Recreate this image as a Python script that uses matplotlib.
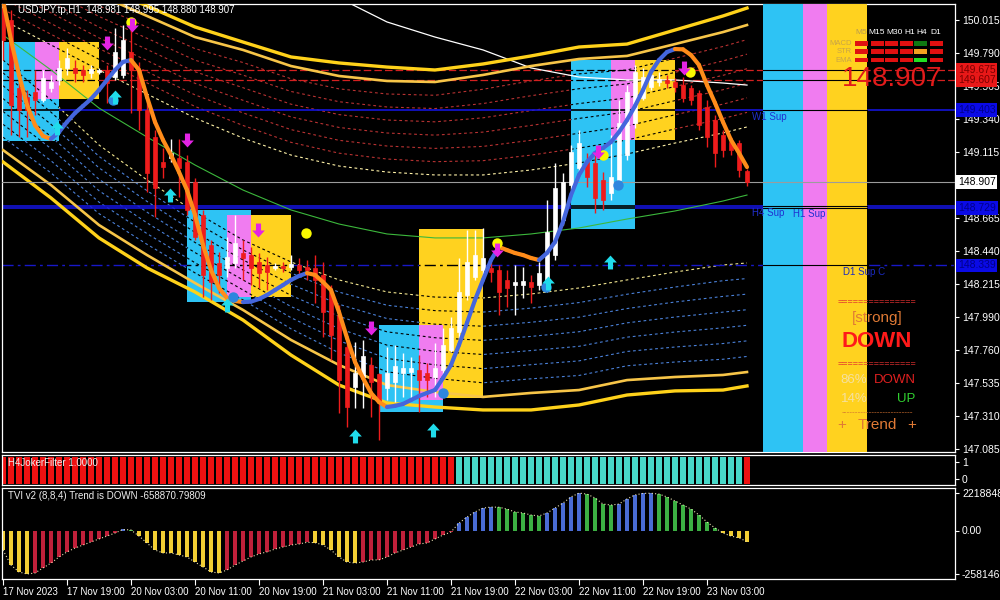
import numpy as np
import matplotlib
matplotlib.use("Agg")
import matplotlib.pyplot as plt
from matplotlib.patches import Rectangle
from matplotlib.collections import LineCollection
from matplotlib.path import Path
import matplotlib.transforms as mtrans

plt.rcParams['font.family'] = ['Liberation Sans', 'DejaVu Sans']

# ---------------------------------------------------------------- data
symbol_title = "USDJPY.tp,H1  148.981 148.995 148.880 148.907"
time_labels = ["17 Nov 2023", "17 Nov 19:00", "20 Nov 03:00", "20 Nov 11:00", "20 Nov 19:00",
               "21 Nov 03:00", "21 Nov 11:00", "21 Nov 19:00", "22 Nov 03:00", "22 Nov 11:00",
               "22 Nov 19:00", "23 Nov 03:00"]
time_label_bars = [0, 8, 16, 24, 32, 40, 48, 56, 64, 72, 80, 88]

price_ticks = [150.015, 149.790, 149.565, 149.340, 149.115, 148.665, 148.440,
               148.215, 147.990, 147.760, 147.535, 147.310, 147.085]
price_tick_labels = ["150.015", "149.790", "149.565", "149.340", "149.115", "148.665", "148.440",
                     "148.215", "147.990", "147.760", "147.535", "147.310", "147.085"]

open_ = [150.097, 150.015, 149.551, 149.489, 149.524, 149.469, 149.551, 149.606, 149.688, 149.688,
         149.674, 149.653, 149.660, 149.674, 149.626, 149.640, 149.797, 149.674, 149.401, 149.216,
         149.046, 149.073, 149.073, 149.046, 148.909, 148.684, 148.479, 148.356, 148.322, 148.356,
         148.424, 148.410, 148.363, 148.342, 148.322, 148.335, 148.328, 148.342, 148.328, 148.322,
         148.274, 148.158, 148.001, 147.782, 147.509, 147.577, 147.659, 147.598, 147.502, 147.543,
         147.604, 147.611, 147.625, 147.604, 147.577, 147.625, 147.761, 147.884, 148.137, 148.260,
         148.308, 148.322, 148.308, 148.240, 148.205, 148.205, 148.226, 148.205, 148.240, 148.410,
         148.649, 148.888, 149.005, 149.046, 149.039, 148.923, 148.834, 148.923, 149.093, 149.312,
         149.483, 149.558, 149.592, 149.606, 149.592, 149.571, 149.551, 149.517, 149.421, 149.332,
         149.230, 149.182, 149.175, 148.981]
high = [150.118, 150.084, 149.606, 149.537, 149.674, 149.674, 149.640, 149.742, 149.824, 149.742,
        149.708, 149.708, 149.688, 149.708, 149.961, 149.981, 150.002, 149.729, 149.469, 149.264,
        149.141, 149.203, 149.203, 149.093, 148.936, 148.718, 148.513, 148.431, 148.533, 148.684,
        148.513, 148.465, 148.424, 148.397, 148.356, 148.363, 148.410, 148.390, 148.376, 148.410,
        148.363, 148.205, 148.069, 147.830, 147.816, 147.830, 147.714, 147.604, 147.782, 147.796,
        147.741, 147.714, 147.727, 147.673, 147.809, 147.912, 147.987, 148.390, 148.581, 148.581,
        148.595, 148.363, 148.342, 148.308, 148.342, 148.328, 148.274, 148.363, 148.786, 149.039,
        148.970, 149.162, 149.264, 149.107, 149.093, 148.977, 149.230, 149.469, 149.571, 149.708,
        149.688, 149.688, 149.660, 149.640, 149.619, 149.626, 149.571, 149.537, 149.469, 149.367,
        149.264, 149.216, 149.196, 148.995]
low = [149.742, 149.230, 149.216, 149.216, 149.367, 149.455, 149.524, 149.571, 149.640, 149.592,
       149.592, 149.619, 149.647, 149.449, 149.606, 149.619, 149.380, 149.264, 148.841, 148.670,
       148.936, 149.046, 148.806, 148.684, 148.513, 148.123, 148.103, 148.151, 148.260, 148.322,
       148.240, 148.205, 148.185, 148.171, 148.308, 148.294, 148.308, 148.274, 148.240, 148.083,
       147.850, 147.693, 147.331, 147.236, 147.365, 147.365, 147.304, 147.147, 147.420, 147.406,
       147.440, 147.434, 147.338, 147.440, 147.440, 147.591, 147.748, 147.830, 148.103, 148.240,
       148.274, 148.226, 148.001, 148.055, 148.001, 148.117, 148.083, 148.171, 148.158, 148.376,
       148.615, 148.854, 148.977, 148.875, 148.697, 148.718, 148.786, 148.888, 149.059, 149.278,
       149.469, 149.537, 149.565, 149.551, 149.524, 149.455, 149.435, 149.264, 149.148, 149.011,
       149.080, 149.093, 148.943, 148.880]
close = [149.879, 149.435, 149.401, 149.401, 149.469, 149.619, 149.592, 149.688, 149.756, 149.653,
         149.640, 149.681, 149.674, 149.585, 149.797, 149.879, 149.674, 149.401, 148.970, 148.868,
         149.011, 149.107, 149.005, 148.718, 148.533, 148.274, 148.226, 148.274, 148.397, 148.492,
         148.390, 148.322, 148.287, 148.294, 148.335, 148.322, 148.349, 148.308, 148.308, 148.240,
         148.021, 147.864, 147.557, 147.372, 147.604, 147.721, 147.543, 147.406, 147.604, 147.652,
         147.639, 147.639, 147.557, 147.557, 147.639, 147.796, 147.912, 148.158, 148.363, 148.410,
         148.390, 148.294, 148.158, 148.185, 148.226, 148.233, 148.192, 148.287, 148.567, 148.868,
         148.909, 149.114, 149.175, 148.943, 148.800, 148.786, 148.943, 149.312, 149.524, 149.660,
         149.626, 149.640, 149.612, 149.585, 149.558, 149.483, 149.469, 149.298, 149.216, 149.107,
         149.127, 149.127, 148.991, 148.907]

# smoothed trend line (orange when falling, blue when rising)
trend_line = [150.152, 149.879, 149.640, 149.435, 149.298, 149.223, 149.203, 149.250, 149.319, 149.380,
              149.428, 149.476, 149.537, 149.606, 149.674, 149.729, 149.742, 149.674, 149.489, 149.319,
              149.196, 149.093, 148.977, 148.854, 148.684, 148.479, 148.308, 148.185, 148.117, 148.096,
              148.089, 148.092, 148.110, 148.137, 148.171, 148.205, 148.240, 148.267, 148.287, 148.274,
              148.226, 148.171, 148.021, 147.844, 147.680, 147.570, 147.468, 147.406, 147.372, 147.380,
              147.393, 147.420, 147.447, 147.468, 147.488, 147.570, 147.659, 147.796, 147.947, 148.103,
              148.240, 148.376, 148.465, 148.444, 148.424, 148.410, 148.390, 148.376, 148.424, 148.499,
              148.636, 148.820, 148.957, 149.046, 149.107, 149.141, 149.182, 149.250, 149.332, 149.428,
              149.537, 149.660, 149.742, 149.797, 149.817, 149.815, 149.776, 149.708, 149.571, 149.449,
              149.319, 149.196, 149.107, 149.011]

# envelope bands, read at every 6th bar
band_bars = [0, 6, 12, 18, 24, 30, 36, 42, 48, 54, 60, 66, 72, 78, 84, 90, 93]
band_upper_outer = [150.630, 150.425, 150.254, 150.111, 149.968, 149.865, 149.763, 149.722, 149.694,
                    149.674, 149.715, 149.770, 149.831, 149.851, 149.947, 150.043, 150.097]
band_upper = [150.528, 150.357, 150.186, 150.043, 149.899, 149.811, 149.701, 149.633, 149.599,
              149.592, 149.640, 149.701, 149.749, 149.770, 149.851, 149.933, 149.981]
band_upper_inner = [150.015, 149.845, 149.674, 149.510, 149.346, 149.209, 149.093, 149.018, 148.977,
                    148.957, 148.957, 148.991, 149.039, 149.100, 149.175, 149.244, 149.285]
band_mid = [149.913, 149.674, 149.414, 149.216, 149.025, 148.854, 148.718, 148.622, 148.554,
            148.527, 148.527, 148.554, 148.595, 148.656, 148.711, 148.779, 148.820]
band_lower_inner = [149.742, 149.469, 149.162, 148.923, 148.704, 148.513, 148.363, 148.240, 148.158,
                    148.123, 148.117, 148.144, 148.185, 148.240, 148.294, 148.342, 148.356]
band_lower = [149.127, 148.888, 148.615, 148.410, 148.219, 148.035, 147.830, 147.659, 147.522,
              147.475, 147.441, 147.468, 147.488, 147.556, 147.577, 147.591, 147.611]
band_lower_outer = [149.046, 148.800, 148.527, 148.322, 148.158, 147.966, 147.727, 147.522, 147.400,
                    147.372, 147.352, 147.352, 147.386, 147.454, 147.482, 147.488, 147.516]
slow_ma = [151.518, 151.313, 151.108, 150.937, 150.767, 150.596, 150.323, 150.166, 150.002,
           149.899, 149.811, 149.688, 149.626, 149.606, 149.606, 149.585, 149.571]
fan_levels = [1, 2, 3, 4, 5, 6]   # sevenths between inner band and band

# session boxes: (start bar, end bar, top price, bottom price, kind)
session_boxes = [
    (0, 7, 149.865, 149.189, 'asia'), (4, 7, 149.865, 149.476, 'europe'), (7, 12, 149.865, 149.476, 'us'),
    (23, 31, 148.718, 148.089, 'asia'), (28, 31, 148.684, 148.123, 'europe'), (31, 36, 148.684, 148.123, 'us'),
    (52, 60, 148.588, 147.434, 'us'), (47, 55, 147.932, 147.338, 'asia'), (52, 55, 147.932, 147.420, 'europe'),
    (71, 79, 149.742, 148.588, 'asia'), (76, 79, 149.742, 149.196, 'europe'), (79, 84, 149.742, 149.196, 'us'),
]
future_sessions = [(95, 100, 'asia'), (100, 103, 'europe'), (103, 108, 'us')]

# support / resistance levels
level_prices = [149.675, 149.607, 149.403, 148.745, 148.729, 148.339]
level_kinds = ['res', 'res', 'sup', 'sup', 'sup', 'supc']
current_price = 148.907
right_labels = [(149.675, 'res'), (149.607, 'res'), (149.403, 'sup'), (148.907, 'cur'),
                (148.729, 'sup'), (148.339, 'sup')]

# signal markers (bar, price)
sell_arrows = [(13, 149.858), (16.1, 149.981), (23, 149.196), (31.9, 148.581), (46, 147.912),
               (61.75, 148.444), (74.4, 149.114), (85.1, 149.688)]
buy_arrows = [(6.75, 149.278), (14, 149.489), (20.9, 148.820), (28, 148.069), (44, 147.174),
              (53.75, 147.215), (68.1, 148.219), (75.9, 148.363)]
yellow_dots = [(16, 150.002), (37.9, 148.561), (61.75, 148.492), (75, 149.093), (85.9, 149.660)]
blue_dots = [(13.75, 149.469), (28.75, 148.123), (55, 147.468), (67.9, 148.192), (76.9, 148.888)]

# H4 joker filter state per bar
h4_state = 'D' * 57 + 'U' * 36 + 'D'
h4_value = "1.0000"

# TVI histogram (millions)
tvi_m = [-1.16, -2.05, -2.46, -2.5814619, -2.52, -2.22, -1.93, -1.57, -1.27, -1.04,
         -0.86, -0.68, -0.50, -0.33, -0.15, 0.06, 0.03, -0.33, -0.74, -1.16,
         -1.33, -1.33, -1.45, -1.57, -1.87, -2.16, -2.46, -2.52, -2.34, -2.05,
         -1.81, -1.57, -1.39, -1.27, -1.10, -0.98, -0.86, -0.80, -0.70, -0.72,
         -0.86, -1.16, -1.57, -1.87, -1.93, -1.87, -1.75, -1.74, -1.57, -1.33,
         -1.16, -0.98, -0.80, -0.74, -0.50, -0.27, -0.09, 0.44, 0.80, 1.10,
         1.33, 1.39, 1.38, 1.27, 1.10, 1.04, 0.92, 0.86, 1.04, 1.33,
         1.63, 1.99, 2.2188484, 2.16, 1.93, 1.57, 1.51, 1.57, 1.87, 2.11,
         2.20, 2.21, 2.16, 1.99, 1.75, 1.51, 1.27, 0.92, 0.50, 0.15,
         -0.15, -0.33, -0.44, -0.65887079809]
tvi_ticks = [2218848.4, 0.0, -2581461.9]
tvi_tick_labels = ["2218848.4", "0.00", "-2581461.9"]
tvi_title = "TVI v2 (8,8,4) Trend is DOWN -658870.79809"

# dashboard
tf_names = ['M5', 'M15', 'M30', 'H1', 'H4', 'D1']
dash_rows = ['MACD', 'STR', 'EMA']
dash_status = [['dn', 'dn', 'dn', 'dn', 'up', 'dn'],
               ['dn', 'dn', 'dn', 'dn', 'flat', 'dn'],
               ['dn', 'dn', 'dn', 'dn', 'up2', 'dn']]
pct_down, pct_up = 86, 14

# ---------------------------------------------------------------- figure
W, H = 1000, 600
fig = plt.figure(figsize=(10, 6), dpi=100, facecolor='black')


def axes_px(l, t, r, b):
    return fig.add_axes([l / W, 1 - b / H, (r - l) / W, (b - t) / H])


def ptext(x, y, s, **kw):
    kw.setdefault('va', 'center')
    kw.setdefault('zorder', 5)
    return fig.text(x / W, 1 - y / H, s, **kw)


ax = axes_px(2, 4, 955, 452)
axh = axes_px(2, 455, 955, 485)
axt = axes_px(2, 488, 955, 579)

for a in (ax, axh, axt):
    a.set_facecolor('black')
    a.set_xlim(-0.125, 119.0)
    for s in a.spines.values():
        s.set_color('white')
        s.set_linewidth(0.9)
    a.yaxis.tick_right()
    a.tick_params(axis='y', colors='white', labelsize=7.5, length=3, width=0.8, pad=2)
    a.set_xticks([])

ax.set_ylim(147.0648, 150.1247)
ax.set_yticks(price_ticks)
ax.set_yticklabels(price_tick_labels)

idx = np.arange(len(close))
bx = np.array(band_bars)
uo, u, ui = np.array(band_upper_outer), np.array(band_upper), np.array(band_upper_inner)
mid = np.array(band_mid)
li, lw_, lo_ = np.array(band_lower_inner), np.array(band_lower), np.array(band_lower_outer)

# clip path built from the session boxes (lines look black inside them)
box_paths = []
for x0, x1, top, bot, kind in session_boxes:
    box_paths.append(Path([(x0, bot), (x1, bot), (x1, top), (x0, top), (x0, bot)],
                          [Path.MOVETO, Path.LINETO, Path.LINETO, Path.LINETO, Path.CLOSEPOLY]))
box_clip = Path.make_compound_path(*box_paths)


def line_with_shadow(xs, ys, **kw):
    ax.plot(xs, ys, zorder=1, **kw)
    kw2 = dict(kw)
    kw2['color'] = 'black'
    ln, = ax.plot(xs, ys, zorder=2.5, **kw2)
    ln.set_clip_path(box_clip, ax.transData)


# fan lines
for k in fan_levels:
    line_with_shadow(bx, ui + (u - ui) * k / 7.0, color='#B83232', lw=0.8, dashes=(2.5, 2.5))
    line_with_shadow(bx, li + (lw_ - li) * k / 7.0, color='#4A80D8', lw=0.8, dashes=(2.5, 2.5))
line_with_shadow(bx, ui, color='#FFF2A8', lw=0.8, dashes=(2.5, 2.5))
line_with_shadow(bx, li, color='#F2E690', lw=0.8, dashes=(2.5, 2.5))

# level lines
level_style = {'res': dict(color='#D42020', lw=0.9, dashes=(6, 2.5)),
               'sup': dict(color='#1414D8', lw=1.2),
               'supc': dict(color='#1818C8', lw=1.0, dashes=(8, 3, 2, 3))}
for p, kind in zip(level_prices, level_kinds):
    line_with_shadow([-0.125, 119.0], [p, p], **level_style[kind])

# session boxes
box_colors = {'asia': '#2EC3F4', 'europe': '#F07CF0', 'us': '#FFD21F'}
for x0, x1, top, bot, kind in session_boxes:
    ax.add_patch(Rectangle((x0, bot), x1 - x0, top - bot, facecolor=box_colors[kind],
                           edgecolor='none', zorder=2))

# bands above boxes
ax.plot(bx, mid, color='#3CB83C', lw=0.8, zorder=2.6)
ax.plot(bx, np.array(slow_ma), color='white', lw=0.9, zorder=2.6)
ax.plot(bx, uo, color='#FFD21A', lw=2.4, zorder=2.7, solid_joinstyle='round')
ax.plot(bx, u, color='#F7C548', lw=1.9, zorder=2.7, solid_joinstyle='round')
ax.plot(bx, lw_, color='#F7C548', lw=1.9, zorder=2.7, solid_joinstyle='round')
ax.plot(bx, lo_, color='#FFD21A', lw=2.4, zorder=2.7, solid_joinstyle='round')

# future session bands spanning full height
y0, y1 = ax.get_ylim()
for x0, x1, kind in future_sessions:
    ax.add_patch(Rectangle((x0, y0), x1 - x0, y1 - y0, facecolor=box_colors[kind],
                           edgecolor='none', zorder=4))
for p in level_prices:
    ax.plot([95, 108], [p, p], color='black', lw=0.8, zorder=4.2)
ax.axhline(current_price, color='#9C9C9C', lw=0.8, zorder=4.3)

# candles
o, c, hi, lo = map(np.array, (open_, close, high, low))
bull = c >= o
ccol = np.where(bull, '#FFFFFF', '#EE1C1C')
ax.vlines(idx, lo, hi, colors=ccol, lw=1.0, zorder=5)
ax.bar(idx, np.abs(c - o), bottom=np.minimum(o, c), width=0.62, color=ccol,
       edgecolor=ccol, linewidth=0.5, zorder=5.1)

# trend line
tl = np.array(trend_line)
pts = np.column_stack([idx, tl])
segs = np.stack([pts[:-1], pts[1:]], axis=1)
scol = ['#FF8C1A' if tl[i + 1] < tl[i] else '#4466DD' for i in range(len(tl) - 1)]
ax.add_collection(LineCollection(segs, colors=scol, linewidths=3.0, capstyle='round',
                                 joinstyle='round', zorder=6))

# markers
down_arrow = Path([(-0.22, 0.6), (0.22, 0.6), (0.22, 0.0), (0.55, 0.0), (0.0, -0.6),
                   (-0.55, 0.0), (-0.22, 0.0), (-0.22, 0.6)],
                  [Path.MOVETO] + [Path.LINETO] * 6 + [Path.CLOSEPOLY])
up_arrow = Path(down_arrow.vertices * np.array([1, -1]), down_arrow.codes)
for (bi, p) in blue_dots:
    ax.plot(bi, p, 'o', ms=7.5, color='#2E86DE', mec='none', zorder=7)
for (bi, p) in yellow_dots:
    ax.plot(bi, p, 'o', ms=7.5, color='#F8F800', mec='none', zorder=7)
for (bi, p) in sell_arrows:
    ax.plot(bi, p, marker=down_arrow, ms=10, color='#E424E4', mec='none', zorder=7.5)
for (bi, p) in buy_arrows:
    ax.plot(bi, p, marker=up_arrow, ms=10, color='#20DCEB', mec='none', zorder=7.5)

# right price labels
blend = mtrans.blended_transform_factory(ax.transAxes, ax.transData)
lab_style = {'res': ('#E81818', '#7A0000'), 'sup': ('#0A0AE6', '#00008A'), 'cur': ('white', 'black')}
for p, kind in right_labels:
    fc, tc = lab_style[kind]
    ax.text(1.003, p, f"{p:.3f}", transform=blend, ha='left', va='center', fontsize=7.5,
            color=tc, clip_on=False, zorder=10,
            bbox=dict(boxstyle='square,pad=0.18', fc=fc, ec='none'))

# level texts
ptext(752, 117, "W1 Sup", color='#2030D0', fontsize=7)
ptext(752, 213, "H4 Sup", color='#2030D0', fontsize=7)
ptext(793, 214, "H1 Sup", color='#2030D0', fontsize=7)
ptext(843, 272, "D1 Sup C", color='#1A2AC0', fontsize=7)

# title
ptext(18, 10, symbol_title, color='white', fontsize=7)

# dashboard top right
col_centers = [861, 877, 895, 910, 922, 936]
col_x0 = [855, 871, 885, 900, 914, 930]
row_y = [43.5, 51.5, 60]
for name, cx in zip(tf_names, col_centers):
    ptext(cx, 33, name, color='#B89A50' if name == 'M5' else 'white', fontsize=6, ha='center')
for rname, ry in zip(dash_rows, row_y):
    ptext(852, ry, rname, color='#C8A448', fontsize=5.5, ha='right')
stat_col = {'dn': '#E01010', 'up': '#0E7A12', 'flat': '#F0A020', 'up2': '#22E022'}
for r, ry in enumerate(row_y):
    for cc, x0 in enumerate(col_x0):
        fig.add_artist(Rectangle((x0 / W, 1 - (ry + 2) / H), 12.5 / W, 4 / H,
                                 transform=fig.transFigure, facecolor=stat_col[dash_status[r][cc]],
                                 edgecolor='none', zorder=5))
ptext(892, 79, f"{current_price:.3f}", color='#E21B1B', fontsize=20, ha='center')

# dashboard lower
ptext(877, 302, "=" * 15, color='#E03030', fontsize=6.5, ha='center')
ptext(877, 318, "[strong]", color='#E07A35', fontsize=11, ha='center')
ptext(877, 342, "DOWN", color='#FF1A1A', fontsize=16, ha='center', fontweight='bold',
      family=['Liberation Sans Narrow', 'Liberation Sans'])
ptext(877, 364, "=" * 15, color='#E03030', fontsize=6.5, ha='center')
ptext(854, 380, f"{pct_down}%", color='#F5E0A0', fontsize=9.5, ha='center')
ptext(895, 380, "DOWN", color='#E02020', fontsize=9.5, ha='center')
ptext(854, 399, f"{pct_up}%", color='#F5E0A0', fontsize=9.5, ha='center')
ptext(906, 399, "UP", color='#30D030', fontsize=9.5, ha='center')
ptext(877, 413, "-" * 26, color='#D07030', fontsize=6, ha='center')
ptext(842, 425, "+", color='#E07A35', fontsize=11, ha='center')
ptext(877, 425, "Trend", color='#E07A35', fontsize=11, ha='center')
ptext(912, 425, "+", color='#E07A35', fontsize=11, ha='center')

# ---------------------------------------------------------------- H4 joker filter
axh.set_ylim(-0.353, 1.412)
h4col = ['#EE1111' if s == 'D' else '#48D8C8' for s in h4_state]
axh.bar(idx, 1.588, bottom=-0.294, width=0.68, color=h4col, zorder=2)
axh.set_yticks([1, 0])
axh.set_yticklabels(['1', '0'])
ptext(8, 463, f"H4JokerFilter {h4_value}", color='#EEEEEE', fontsize=7)

# ---------------------------------------------------------------- TVI
tvi = np.array(tvi_m) * 1e6
axt.set_ylim(-2876050, 2520250)
tcol = []
for i, v in enumerate(tvi):
    rising = i > 0 and v > tvi[i - 1]
    if v >= 0:
        tcol.append('#4A6CD4' if rising else '#3CB043')
    else:
        tcol.append('#C0203A' if rising else '#F2CE33')
axt.bar(idx, tvi, width=0.42, color=tcol, zorder=2)
axt.plot(idx, tvi, color='#E8E0B0', lw=0.8, ls=(0, (1, 2)), zorder=3)
axt.set_yticks(tvi_ticks)
axt.set_yticklabels(tvi_tick_labels)
axt.set_xticks(time_label_bars)
axt.set_xticklabels(time_labels)
axt.tick_params(axis='x', colors='white', labelsize=7, length=4, width=0.8, pad=2)
for lbl in axt.get_xticklabels():
    lbl.set_ha('left')
ptext(8, 496, tvi_title, color='#EEEEEE', fontsize=7)

fig.savefig('out.png', dpi=100, facecolor='black')
